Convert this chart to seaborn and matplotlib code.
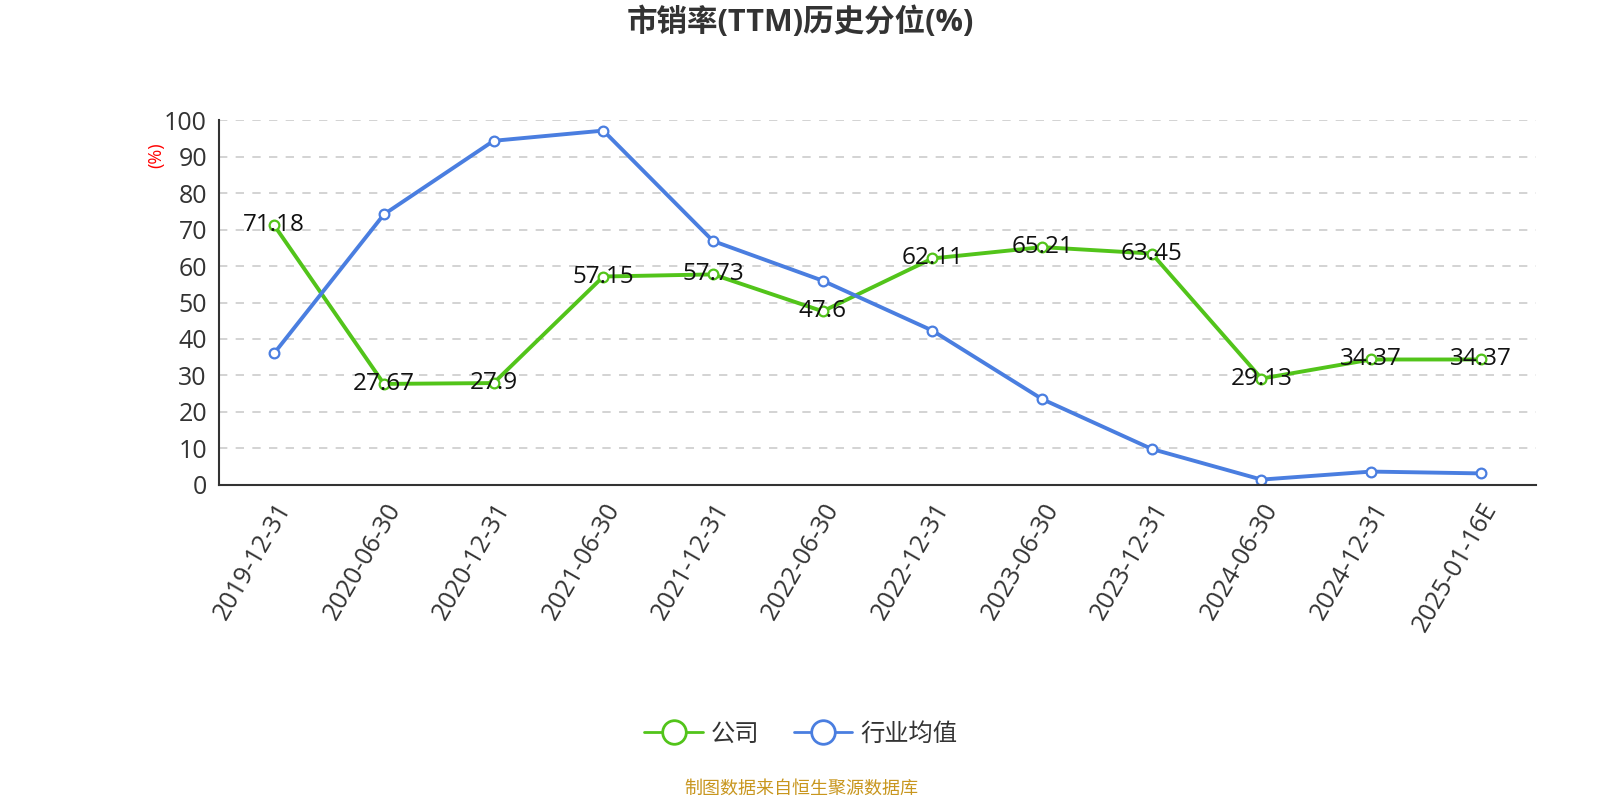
import numpy as np
import pandas as pd
import matplotlib
matplotlib.use("Agg")
import matplotlib.pyplot as plt
from matplotlib.lines import Line2D
import seaborn as sns

dates = ["2019-12-31", "2020-06-30", "2020-12-31", "2021-06-30", "2021-12-31",
         "2022-06-30", "2022-12-31", "2023-06-30", "2023-12-31", "2024-06-30",
         "2024-12-31", "2025-01-16E"]
company = [71.18, 27.67, 27.9, 57.15, 57.73, 47.6, 62.11, 65.21, 63.45, 29.13, 34.37, 34.37]
industry = [36.1, 74.2, 94.4, 97.2, 66.9, 56.0, 42.3, 23.5, 9.8, 1.4, 3.6, 3.1]
series_names = ["公司", "行业均值"]
colors = ["#52c41a", "#4a7ee0"]

sns.set_theme(style="white")
plt.rcParams['font.family'] = ['Open Sans', 'Noto Sans CJK SC', 'DejaVu Sans']

df = pd.DataFrame({"pos": list(range(len(dates))) * 2,
                   "value": company + industry,
                   "series": [series_names[0]] * len(dates) + [series_names[1]] * len(dates)})

# reference measured in 1568x784 space
W, H = 1568, 784
fig = plt.figure(figsize=(16, 8), dpi=100)
ax = fig.add_axes([215 / W, 1 - 475 / H, 1290 / W, 357 / H])

sns.lineplot(data=df, x="pos", y="value", hue="series", palette=colors,
             linewidth=2.8, marker="o", markersize=7, markerfacecolor="white",
             markeredgewidth=1.6, ax=ax, legend=False)
for line, c in zip(ax.lines, colors):
    line.set_markeredgecolor(c)

for i, v in enumerate(company):
    ax.text(i, v, str(v), ha="center", va="center", fontsize=17.5, color="#111111", zorder=5)

ax.set_xlim(-0.5, len(dates) - 0.5)
ax.set_ylim(0, 100)
ax.set_yticks(range(0, 101, 10))
ax.tick_params(axis="y", labelsize=18, colors="#333333", length=6, width=1.2, pad=3)
ax.set_xticks(np.arange(-0.5, len(dates), 1.0))
ax.set_xticklabels([])
ax.tick_params(axis="x", which="major", length=7, width=1.2, color="#333333")
ax.set_xticks(range(len(dates)), minor=True)
ax.set_xticklabels(dates, minor=True, rotation=60, ha="right", rotation_mode="anchor",
                   fontsize=18, color="#333333")
ax.tick_params(axis="x", which="minor", length=0, pad=10)
ax.grid(axis="y", linestyle=(0, (5, 5)), color="#cccccc", linewidth=1.2)
ax.set_axisbelow(True)
for s in ["top", "right"]:
    ax.spines[s].set_visible(False)
for s in ["left", "bottom"]:
    ax.spines[s].set_color("#333333")
    ax.spines[s].set_linewidth(1.5)
ax.set_xlabel("")
ax.set_ylabel("")

fig.text(153 / W, 1 - 152 / H, "(%)", color="red", fontsize=13, rotation=90,
         ha="center", va="center")
fig.text(784 / W, 1 - 22 / H, "市销率(TTM)历史分位(%)", fontsize=22, fontweight="bold",
         color="#333333", ha="center", va="center")

handles = [Line2D([0], [0], color=c, linewidth=2, marker="o", markersize=17,
                  markerfacecolor="white", markeredgewidth=2) for c in colors]
fig.legend(handles, series_names, loc="center", bbox_to_anchor=(785 / W, 1 - 720 / H),
           ncol=2, frameon=False, fontsize=17.5, handlelength=2.4, columnspacing=1.4,
           handletextpad=0.35, labelcolor="#333333")
fig.text(785 / W, 1 - 773 / H, "制图数据来自恒生聚源数据库", fontsize=13,
         color="#c8961e", ha="center", va="center")

fig.savefig("out.png", dpi=100)
